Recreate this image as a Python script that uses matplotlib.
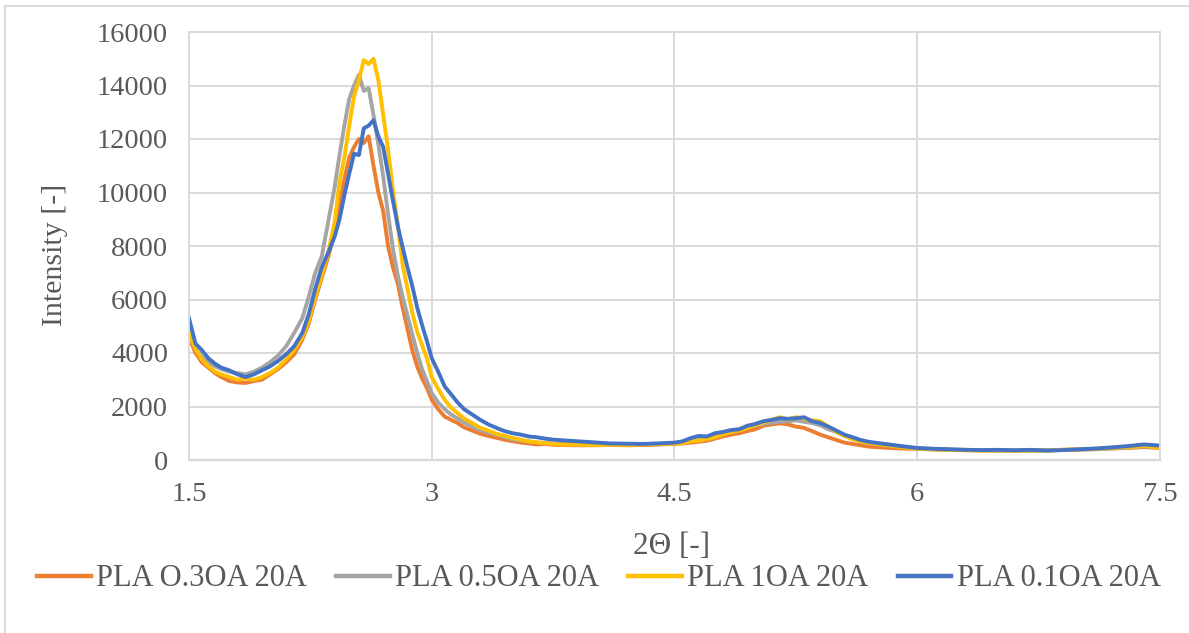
import matplotlib
matplotlib.use("Agg")
import matplotlib.pyplot as plt
from matplotlib.lines import Line2D

# ----------------------------------------------------------------------------
# data (2-theta vs intensity)
# ----------------------------------------------------------------------------
two_theta = [
    1.50, 1.54, 1.58, 1.62, 1.66, 1.70, 1.75, 1.80, 1.85, 1.90, 1.95, 2.00,
    2.05, 2.10, 2.15, 2.20, 2.24, 2.28, 2.32, 2.36, 2.40, 2.43, 2.46, 2.49,
    2.52, 2.55, 2.58, 2.61, 2.64, 2.67, 2.70, 2.73, 2.76, 2.79, 2.82, 2.85,
    2.88, 2.91, 2.94, 2.97, 3.00, 3.04, 3.08, 3.12, 3.16, 3.20, 3.25, 3.30,
    3.35, 3.40, 3.45, 3.50, 3.55, 3.60, 3.65, 3.70, 3.75, 3.80, 3.90, 4.00,
    4.10, 4.20, 4.30, 4.40, 4.50, 4.55, 4.60, 4.65, 4.70, 4.75, 4.80, 4.85,
    4.90, 4.95, 5.00, 5.05, 5.10, 5.15, 5.20, 5.25, 5.30, 5.35, 5.40, 5.45,
    5.50, 5.55, 5.60, 5.65, 5.70, 5.80, 5.90, 6.00, 6.10, 6.20, 6.30, 6.40,
    6.50, 6.60, 6.70, 6.80, 6.90, 7.00, 7.10, 7.20, 7.30, 7.40, 7.50,
]

pla_03 = [
    4600, 4000, 3650, 3450, 3250, 3100, 2950, 2900, 2880, 2950, 3000, 3200,
    3400, 3650, 3950, 4500, 5100, 6000, 6800, 7600, 8500, 9500, 10500, 11300,
    11700, 12000, 11850, 12100, 11000, 10000, 9300, 8000, 7200, 6600, 5700, 4900,
    4100, 3500, 3050, 2700, 2250, 1900, 1620, 1500, 1380, 1220, 1100, 980,
    900, 830, 760, 700, 650, 620, 580, 600, 570, 560, 550, 550,
    560, 550, 560, 580, 600, 620, 650, 680, 720, 800, 880, 950,
    1000, 1080, 1150, 1280, 1330, 1370, 1330, 1250, 1200, 1080, 950, 850,
    750, 650, 600, 550, 500, 460, 430, 420, 390, 380, 370, 360,
    350, 370, 350, 370, 380, 390, 410, 430, 450, 480, 450,
]

pla_05 = [
    4650, 4150, 3850, 3650, 3500, 3400, 3300, 3250, 3200, 3300, 3450, 3650,
    3900, 4250, 4750, 5300, 6100, 7000, 7600, 8900, 10200, 11400, 12500, 13500,
    14000, 14400, 13800, 13900, 12900, 11800, 10600, 9200, 7900, 6900, 6100, 5400,
    4700, 4000, 3400, 2950, 2500, 2150, 1900, 1700, 1550, 1400, 1250, 1120,
    1030, 950, 850, 770, 730, 700, 650, 640, 620, 610, 600, 590,
    580, 580, 590, 600, 620, 650, 700, 750, 800, 900, 980, 1050,
    1100, 1200, 1280, 1350, 1400, 1430, 1450, 1480, 1430, 1380, 1300, 1150,
    1050, 900, 800, 700, 640, 560, 500, 440, 410, 390, 380, 370,
    360, 370, 360, 370, 380, 390, 400, 430, 460, 500, 520,
]

pla_1 = [
    4750, 4150, 3750, 3500, 3300, 3200, 3100, 3000, 3050, 3000, 3100, 3250,
    3450, 3750, 4100, 4600, 5200, 6100, 6900, 7750, 8900, 10400, 11300, 12500,
    13600, 14200, 14950, 14800, 15000, 14200, 12900, 11600, 10100, 8800, 7300, 6400,
    5500, 4800, 4300, 3800, 3100, 2650, 2250, 1950, 1750, 1550, 1380, 1200,
    1100, 980, 900, 820, 760, 690, 660, 630, 600, 580, 570, 560,
    570, 560, 580, 590, 610, 640, 700, 720, 780, 850, 950, 1050,
    1100, 1200, 1300, 1400, 1500, 1600, 1520, 1600, 1550, 1480, 1450, 1250,
    1050, 900, 780, 700, 640, 560, 480, 430, 400, 380, 360, 350,
    360, 340, 360, 350, 380, 400, 420, 450, 480, 520, 470,
]

pla_01 = [
    5300, 4350, 4100, 3800, 3600, 3450, 3350, 3200, 3100, 3200, 3350, 3500,
    3700, 3950, 4250, 4750, 5450, 6400, 7200, 7750, 8350, 9000, 9900, 10700,
    11450, 11400, 12400, 12500, 12700, 12100, 11700, 10700, 9700, 8750, 7950, 7200,
    6500, 5700, 5050, 4450, 3800, 3300, 2750, 2450, 2150, 1900, 1700, 1500,
    1330, 1200, 1080, 1000, 950, 880, 850, 800, 760, 740, 700, 660,
    620, 610, 600, 620, 650, 700, 820, 900, 880, 1000, 1050, 1120,
    1150, 1280, 1350, 1450, 1500, 1560, 1540, 1560, 1600, 1450, 1380, 1250,
    1100, 950, 850, 750, 680, 600, 520, 450, 420, 400, 380, 370,
    380, 360, 380, 350, 370, 400, 430, 470, 520, 580, 540,
]

series_labels = ["PLA O.3OA 20A", "PLA 0.5OA 20A", "PLA 1OA 20A", "PLA 0.1OA 20A"]
series_colors = ["#ED7D31", "#A5A5A5", "#FFC000", "#4472C4"]

x_ticks = [1.5, 3, 4.5, 6, 7.5]
x_tick_labels = ["1.5", "3", "4.5", "6", "7.5"]
y_ticks = list(range(0, 16001, 2000))

# ----------------------------------------------------------------------------
# figure
# ----------------------------------------------------------------------------
plt.rcParams["font.family"] = ["Liberation Serif", "DejaVu Serif"]
text_grey = "#595959"
grid_grey = "#D9D9D9"

fig = plt.figure(figsize=(11.89, 6.33), dpi=100)
ax = fig.add_axes([189 / 1189, 1 - 460 / 633, (1160 - 189) / 1189, (460 - 32) / 633])

for ys, lab, col in zip([pla_03, pla_05, pla_1, pla_01], series_labels, series_colors):
    ax.plot(two_theta, ys, color=col, lw=2.8, label=lab, solid_joinstyle="round")

ax.set_xlim(1.5, 7.5)
ax.set_ylim(0, 16000)
ax.set_xticks(x_ticks)
ax.set_xticklabels(x_tick_labels)
ax.set_yticks(y_ticks)
ax.grid(True, color=grid_grey, lw=1.4)
ax.set_axisbelow(True)
for side in ["top", "right", "left"]:
    ax.spines[side].set_color(grid_grey)
    ax.spines[side].set_linewidth(1.4)
ax.spines["bottom"].set_color(grid_grey)
ax.spines["bottom"].set_linewidth(1.6)
ax.tick_params(length=0, labelsize=20.5, labelcolor=text_grey)
ax.tick_params(axis="y", pad=15)
ax.tick_params(axis="x", pad=16)

ax.set_ylabel("Intensity [-]", fontsize=21.5, color=text_grey)
ax.yaxis.set_label_coords(-0.125, 0.48)
fig.text(672 / 1189, 1 - 547 / 633, "2\u0398 [-]", fontsize=22.5, color=text_grey,
         ha="center", va="center")

leg = fig.legend(loc="center", bbox_to_anchor=(599 / 1189, 1 - 579 / 633), ncol=4,
                 frameon=False, fontsize=22, handlelength=1.75, handletextpad=0.18,
                 columnspacing=0.95, labelcolor=text_grey)
for h in leg.get_lines():
    h.set_linewidth(3.2)

# outer chart frame (top and left edges visible in the reference)
fig.add_artist(Line2D([5 / 1189, 1.0], [1 - 6 / 633, 1 - 6 / 633],
                      transform=fig.transFigure, color=grid_grey, lw=1.4))
fig.add_artist(Line2D([5 / 1189, 5 / 1189], [0.0, 1 - 6 / 633],
                      transform=fig.transFigure, color=grid_grey, lw=1.4))

fig.savefig("out.png", dpi=100)
